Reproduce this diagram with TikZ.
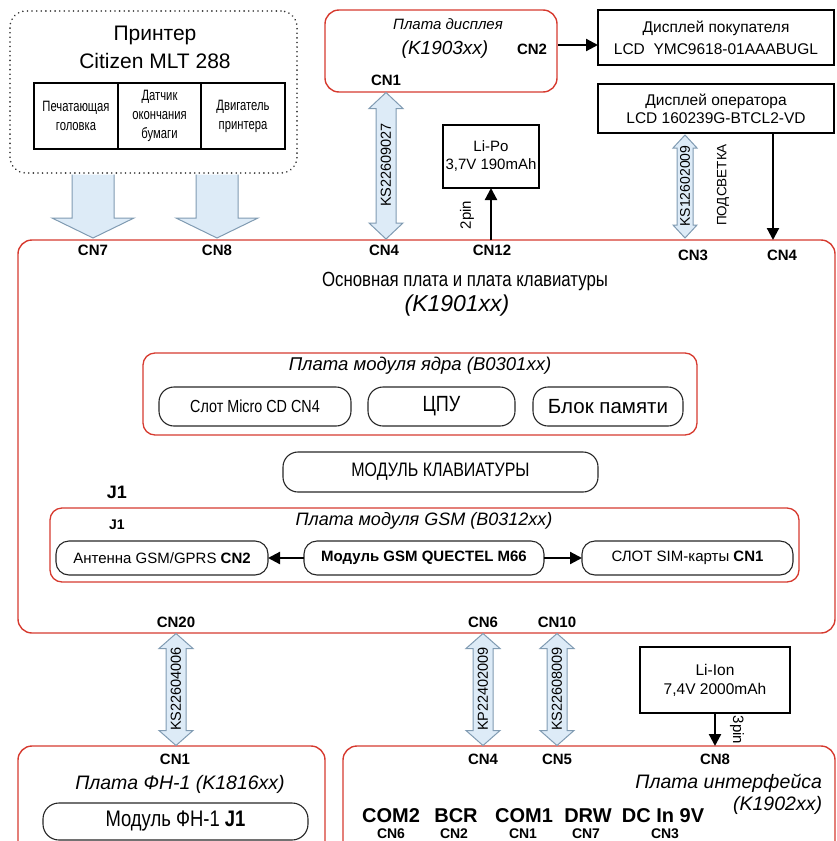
\documentclass[tikz,border=0pt]{standalone}
\usepackage{fontspec}
\setmainfont{Liberation Sans}
\newfontfamily\narrowfont[FakeStretch=0.75]{Liberation Sans}
\newfontfamily\condfont[FakeStretch=0.82]{Liberation Sans}
\usetikzlibrary{arrows.meta}
\definecolor{bred}{RGB}{214,58,47}
\definecolor{afill}{RGB}{221,235,247}
\definecolor{aline}{RGB}{128,155,178}
\newcommand\fsz[1]{\fontsize{#1}{#1}\selectfont}
% double block arrow: cx, ytop, ybot, shaft half, head half, head length
\newcommand\dblarrow[6]{%
  \draw[barrow] (#1,#2) -- (#1+#5,#2+#6) -- (#1+#4,#2+#6) -- (#1+#4,#3-#6) -- (#1+#5,#3-#6) -- (#1,#3)
    -- (#1-#5,#3-#6) -- (#1-#4,#3-#6) -- (#1-#4,#2+#6) -- (#1-#5,#2+#6) -- cycle;}
% single down block arrow, open at top: cx, ytop, ytip, shaft half, head half, head length
\newcommand\blkdown[6]{%
  \fill[afill] (#1-#4,#2) -- (#1-#4,#3-#6) -- (#1-#5,#3-#6) -- (#1,#3) -- (#1+#5,#3-#6) -- (#1+#4,#3-#6) -- (#1+#4,#2) -- cycle;
  \draw[aline, line width=1pt, line join=miter] (#1-#4,#2) -- (#1-#4,#3-#6) -- (#1-#5,#3-#6) -- (#1,#3) -- (#1+#5,#3-#6) -- (#1+#4,#3-#6) -- (#1+#4,#2);}
\begin{document}
\begin{tikzpicture}[x=1pt,y=-1pt,
  every node/.style={inner sep=0pt, outer sep=0pt},
  board/.style={draw=bred, line width=1.4pt, rounded corners=14pt},
  pill/.style={draw=black!85, line width=1.1pt, rounded corners=15pt, align=center},
  plainbox/.style={draw=black, line width=1.1pt, align=center},
  cell/.style={draw=black, line width=1.6pt, align=center, font=\narrowfont\fontsize{15}{19}\selectfont},
  dotbox/.style={draw=black!80, line width=1.8pt, dash pattern=on 0.01pt off 4.6pt, line cap=round, rounded corners=16pt},
  cn/.style={font=\bfseries\fsz{15}},
  cnsmall/.style={font=\bfseries\fsz{14}},
  klabel/.style={font=\fsz{14.5}, rotate=90},
  blk/.style={line width=2.2pt, -{Triangle[length=12pt,width=12pt]}},
  barrow/.style={fill=afill, draw=aline, line width=1pt, line join=miter},
]
\useasboundingbox (0,0) rectangle (837,841);
\clip (0,0) rectangle (837,841);

% ---------- printer ----------
\node[dotbox, minimum width=287, minimum height=162] (printer) at (153.5,92) {};
\node[font=\fsz{21}] (prt1) at (155,35) {Принтер};
\node[font=\fsz{21}] (prt2) at (155,61) {Citizen MLT 288};
\node[cell, minimum width=84, minimum height=66] (cell1) at (76,116) {Печатающая\\головка};
\node[cell, minimum width=83, minimum height=66] (cell2) at (159.5,116) {Датчик\\окончания\\бумаги};
\node[cell, minimum width=84, minimum height=66] (cell3) at (243,116) {Двигатель\\принтера};
\blkdown{93}{174.5}{238}{21}{41}{20}
\blkdown{217}{174.5}{238}{21}{41}{20}

% ---------- display board ----------
\node[board, minimum width=232, minimum height=82] (disp) at (441,51) {};
\node[font=\itshape\fsz{15}] (dispt) at (448,24) {Плата дисплея};
\node[font=\itshape\fsz{19}] (dispk) at (445,50) {(K1903xx)};
\node[cn] (dcn2) at (532,49) {CN2};
\node[cn] (dcn1) at (386,80) {CN1};

\node[plainbox, minimum width=236, minimum height=55, font=\fontsize{15.5}{22}\selectfont] (cust) at (716,37.5) {Дисплей покупателя\\LCD\ \ YMC9618-01AAABUGL};
\node[plainbox, minimum width=236, minimum height=49, font=\fontsize{15.5}{18}\selectfont] (oper) at (716,108.5) {Дисплей оператора\\LCD 160239G-BTCL2-VD};
\node[plainbox, minimum width=96, minimum height=63, font=\fontsize{15}{18}\selectfont] (lipo) at (491,156.5) {Li-Po\\3,7V 190mAh};

% ---------- main board ----------
\node[board, minimum width=817, minimum height=393] (main) at (426.5,436.5) {};

\coordinate (c2a) at (558,45);
\draw[blk] (c2a) -- (c2a -| cust.west);
\coordinate (opx) at (773,133.5);
\draw[blk] (opx) -- (opx |- main.north);
\draw[blk] (lipo.south |- main.north) -- (lipo.south);
\node[font=\fsz{15}, rotate=90] (pin2) at (467,215) {2pin};

\dblarrow{386}{92.5}{239}{10}{17}{16}
\node[klabel] (ks1) at (386,165) {KS22609027};
\dblarrow{685}{135}{238}{8}{12}{13}
\node[klabel, font=\fsz{14}] (ks2) at (685,186) {KS12602009};
\node[font=\fsz{13.5}, rotate=90] (podsv) at (723,185) {ПОДСВЕТКА};

\node[cn] (m7) at (93,250) {CN7};
\node[cn] (m8) at (217,250) {CN8};
\node[cn] (m4) at (384,250) {CN4};
\node[cn] (m12) at (492,250) {CN12};
\node[cn] (m3) at (693,255) {CN3};
\node[cn] (m4b) at (782,255) {CN4};

\node[font=\condfont\fsz{20.5}] (mtitle) at (465,281) {Основная плата и плата клавиатуры};
\node[font=\itshape\fsz{23}] (mk) at (457,306) {(K1901xx)};

% core module
\node[board, line width=1.3pt, rounded corners=12pt, minimum width=554, minimum height=82] (core) at (420,394) {};
\node[font=\itshape\fsz{18.5}] (coret) at (420,366) {Плата модуля ядра (B0301xx)};
\node[pill, minimum width=192, minimum height=39, font=\condfont\fsz{17.5}] (slot) at (255,406.5) {Слот Micro CD CN4};
\node[pill, minimum width=147, minimum height=39, font=\condfont\fsz{22}] (cpu) at (441.5,406.5) {ЦПУ};
\node[pill, minimum width=150, minimum height=39, font=\fsz{20.5}] (mem) at (608,406.5) {Блок памяти};
\node[pill, minimum width=315, minimum height=40, font=\condfont\fsz{19.5}] (kbd) at (440.5,472) {МОДУЛЬ КЛАВИАТУРЫ};

\node[font=\bfseries\fsz{18}] (j1a) at (117,492) {J1};

% GSM module
\node[board, line width=1.3pt, rounded corners=12pt, minimum width=749, minimum height=74] (gsm) at (424.5,545) {};
\node[font=\itshape\fsz{18}] (gsmt) at (424,521) {Плата модуля GSM (B0312xx)};
\node[font=\bfseries\fsz{14}] (j1b) at (117,525) {J1};
\node[pill, minimum width=212, minimum height=34, rounded corners=13pt, font=\fsz{15}] (ant) at (162,558) {Антенна GSM/GPRS \textbf{CN2}};
\node[pill, minimum width=240, minimum height=34, rounded corners=13pt, font=\bfseries\fsz{15}] (mod) at (424,558) {Модуль GSM QUECTEL M66};
\node[pill, minimum width=211, minimum height=34, rounded corners=13pt, font=\fsz{15}] (sim) at (687.5,558) {СЛОТ SIM-карты \textbf{CN1}};
\draw[blk] (mod.west) -- (ant.east);
\draw[blk] (mod.east) -- (sim.west);

\node[cn] (m20) at (176,622) {CN20};
\node[cn] (m6) at (483,622) {CN6};
\node[cn] (m10) at (557,622) {CN10};

% ---------- lower boards ----------
\node[board, minimum width=307, minimum height=134] (fn) at (171.5,813) {};
\node[board, minimum width=492, minimum height=134] (iface) at (589,813) {};

\dblarrow{176}{633.5}{745.5}{10}{17}{15}
\node[klabel] (ks3) at (176,689) {KS22604006};
\dblarrow{483}{633.5}{745.5}{10}{17}{15}
\node[klabel] (kp1) at (483,689) {KP22402009};
\dblarrow{557}{633.5}{745.5}{10}{17}{15}
\node[klabel] (ks4) at (557,689) {KS22608009};

\node[plainbox, minimum width=150, minimum height=66, font=\fontsize{15.5}{19}\selectfont] (liion) at (715,680) {Li-Ion\\7,4V 2000mAh};
\draw[blk] (liion.south) -- (liion.south |- iface.north);
\node[font=\fsz{15}, rotate=-90] (pin3) at (737,730) {3pin};

\node[cn] (f1) at (175,759) {CN1};
\node[font=\itshape\fsz{19.5}] (fnt) at (180,784) {Плата ФН-1 (K1816xx)};
\node[pill, minimum width=265, minimum height=37, rounded corners=16pt, font=\condfont\fsz{22.5}] (fnm) at (175.5,821.5) {Модуль ФН-1 \textbf{J1}};

\node[cn] (i4) at (483,759) {CN4};
\node[cn] (i5) at (557,759) {CN5};
\node[cn] (i8) at (715,759) {CN8};
\node[font=\itshape\fsz{19.5}, anchor=east] (ift) at (822,783) {Плата интерфейса};
\node[font=\itshape\fsz{19.5}, anchor=east] (ifk) at (822,805) {(K1902xx)};

\node[font=\bfseries\fsz{20}] (com2) at (391,816) {COM2};
\node[cnsmall] (com2c) at (391,834) {CN6};
\node[font=\bfseries\fsz{20}] (bcr) at (456,816) {BCR};
\node[cnsmall] (bcrc) at (454,834) {CN2};
\node[font=\bfseries\fsz{20}] (com1) at (524,816) {COM1};
\node[cnsmall] (com1c) at (523,834) {CN1};
\node[font=\bfseries\fsz{20}] (drw) at (588,816) {DRW};
\node[cnsmall] (drwc) at (586,834) {CN7};
\node[font=\bfseries\fsz{20}] (dcin) at (663,816) {DC In 9V};
\node[cnsmall] (dcinc) at (665,834) {CN3};
\end{tikzpicture}
\end{document}
